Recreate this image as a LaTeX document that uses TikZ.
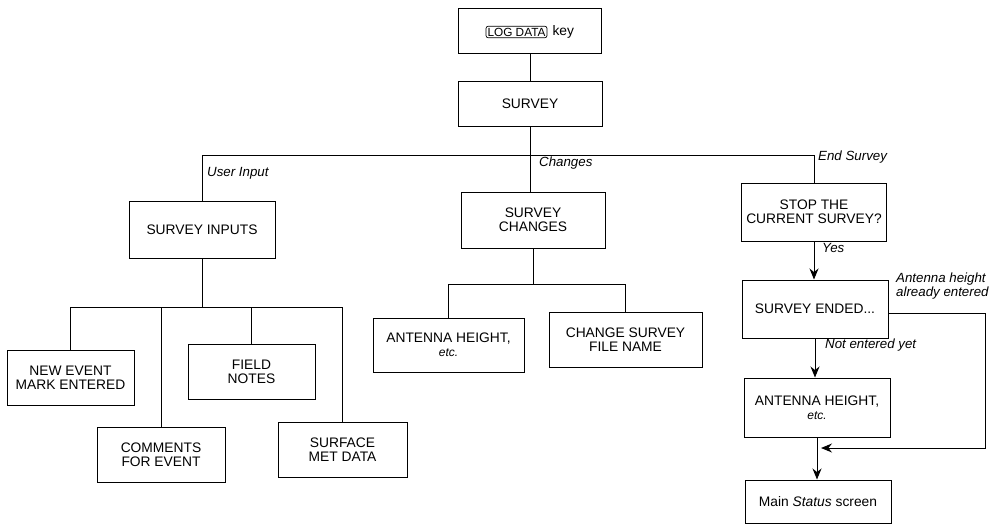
\documentclass[tikz,border=0pt]{standalone}
\usepackage{fontspec}
\setmainfont{Liberation Sans}
\usetikzlibrary{arrows.meta,calc}
\begin{document}
\begin{tikzpicture}[x=1pt,y=-1pt,
  every node/.style={font=\fontsize{13.8}{14}\selectfont},
  box/.style={draw, line width=1pt, align=center, inner sep=2pt},
  lbl/.style={anchor=west, font=\fontsize{13.3}{14}\selectfont\itshape, inner sep=1pt},
  conn/.style={line width=1pt},
  arr/.style={line width=1pt, -{Stealth[length=11pt,width=9pt]}}]
\useasboundingbox (0,0) rectangle (998,525);
% boxes
\node[box, minimum width=143, minimum height=45] (log) at (530,30.5) {};
\node[draw, line width=0.7pt, rounded corners=2pt, inner sep=1.5pt, font=\fontsize{11.8}{12}\selectfont] (ldk) at (516.5,32) {LOG DATA};
\node[anchor=west, inner sep=1pt] (keytxt) at ([xshift=4pt]ldk.east) {key};
\node[box, minimum width=144, minimum height=45] (survey) at (530,103.5) {SURVEY};
\node[box, minimum width=146, minimum height=57] (inputs) at (202,229.5) {SURVEY INPUTS};
\node[box, minimum width=144, minimum height=56] (changes) at (533,220) {SURVEY\\CHANGES};
\node[box, minimum width=145, minimum height=58] (stop) at (814,212) {STOP THE\\CURRENT SURVEY?};
\node[box, minimum width=146, minimum height=58] (ended) at (815,309) {SURVEY ENDED...};
\node[box, minimum width=146, minimum height=59] (ant2) at (817,407.5) {ANTENNA HEIGHT,\\{\fontsize{12}{12}\selectfont\itshape etc.}};
\node[box, minimum width=146, minimum height=43] (main) at (818,501.5) {Main \textit{Status} screen};
\node[box, minimum width=127, minimum height=55] (newev) at (70.5,377.5) {NEW EVENT\\MARK ENTERED};
\node[box, minimum width=127, minimum height=55] (field) at (251.5,371.5) {FIELD\\NOTES};
\node[box, minimum width=128, minimum height=55] (comm) at (161,454.5) {COMMENTS\\FOR EVENT};
\node[box, minimum width=129, minimum height=55] (surf) at (342.5,449.5) {SURFACE\\MET DATA};
\node[box, minimum width=151, minimum height=54] (ant1) at (448.5,345) {ANTENNA HEIGHT,\\{\fontsize{12}{12}\selectfont\itshape etc.}};
\node[box, minimum width=153, minimum height=55] (chg) at (625.5,339.5) {CHANGE SURVEY\\FILE NAME};
% bus coordinates
\coordinate (bus0) at (0,155);
\coordinate (bus1) at (0,307);
\coordinate (bus2) at (0,284);
\coordinate (rc) at (985,448);
% connectors
\draw[conn] (survey.north) -- (survey.north |- log.south);
\draw[conn] (survey.south) -- (survey.south |- changes.north);
\draw[conn] (inputs.north) |- (stop.north |- bus0) -- (stop.north);
\draw[conn] (inputs.south) -- (inputs.south |- bus1);
\draw[conn] (newev.north) |- (surf.north |- bus1) -- (surf.north);
\draw[conn] (comm.north) -- (comm.north |- bus1);
\draw[conn] (field.north) -- (field.north |- bus1);
\draw[conn] (changes.south) -- (changes.south |- bus2);
\draw[conn] (ant1.north) |- (chg.north |- bus2) -- (chg.north);
\draw[arr] (stop.south) -- (stop.south |- ended.north);
\draw[arr] (ended.south) -- (ended.south |- ant2.north);
\draw[arr] (ant2.south) -- (ant2.south |- main.north);
\draw[arr] ([yshift=-4pt]ended.east) -| (rc) -- ($(ant2.south |- rc)+(4,0)$);
% labels
\node[lbl] (lui) at (206,173) {User Input};
\node[lbl] (lch) at (538,163) {Changes};
\node[lbl] (les) at (817,157) {End Survey};
\node[lbl] (lyes) at (821,248) {Yes};
\node[lbl] (lnot) at (824,345) {Not entered yet};
\node[lbl, align=left] (lah) at (895,286) {Antenna height\\already entered};
\end{tikzpicture}
\end{document}
